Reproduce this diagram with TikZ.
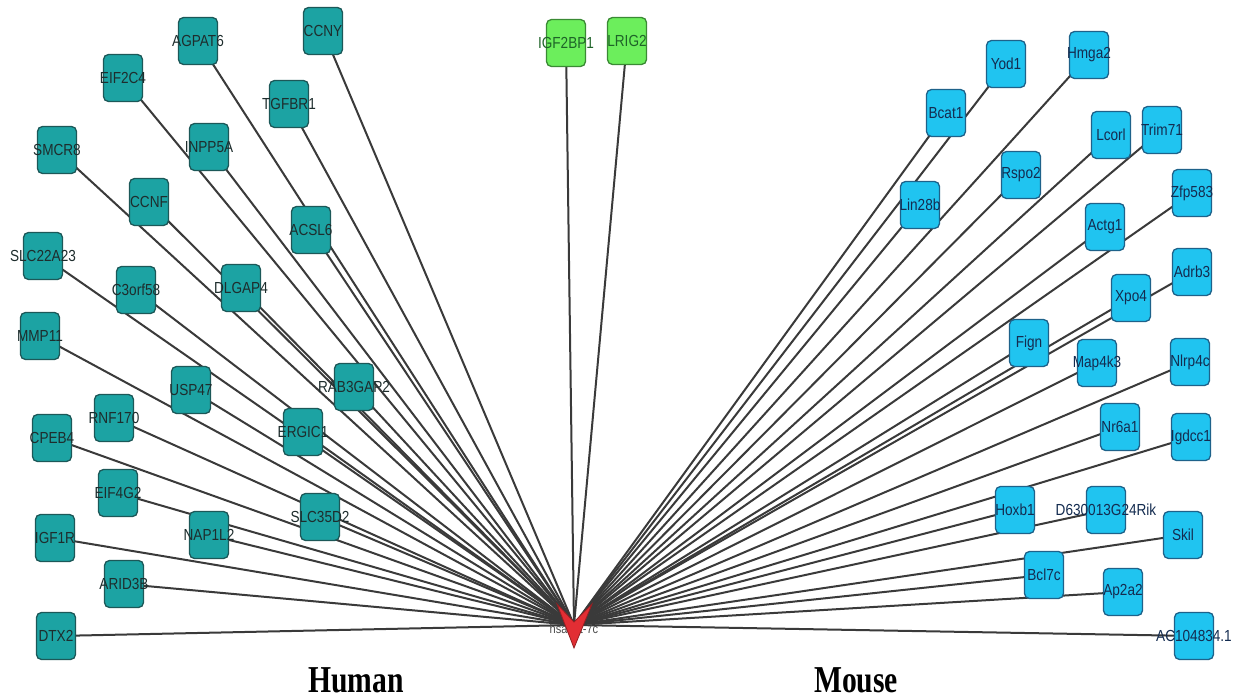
\documentclass[tikz,border=0pt]{standalone}
\usepackage{fontspec}
\newfontfamily\labfont{Liberation Sans}
\newfontfamily\capfont{Liberation Serif}
\pgfdeclarelayer{edges}
\pgfsetlayers{edges,main}
\definecolor{hfill}{RGB}{28,163,163}
\definecolor{hline}{RGB}{28,88,88}
\definecolor{htext}{RGB}{30,45,45}
\definecolor{gfill}{RGB}{108,238,92}
\definecolor{gline}{RGB}{58,138,52}
\definecolor{gtext}{RGB}{30,100,40}
\definecolor{mfill}{RGB}{32,196,240}
\definecolor{mline}{RGB}{30,98,138}
\definecolor{mtext}{RGB}{20,44,80}
\definecolor{vfill}{RGB}{226,46,52}
\definecolor{vline}{RGB}{150,30,34}
\definecolor{edgecol}{RGB}{58,58,58}

\begin{document}
\begin{tikzpicture}[x=1pt,y=-1pt,
  genelab/.style={font=\labfont\fontsize{16}{16}\selectfont, inner sep=0pt},
  gene/.style={rounded corners=5pt, line width=1.3pt, minimum width=39pt,
    minimum height=47pt, inner sep=0pt, outer sep=0pt},
  human/.style={gene, fill=hfill, draw=hline,
    label={[genelab, text=htext]center:\scalebox{0.85}[1]{#1}}},
  bridge/.style={gene, fill=gfill, draw=gline,
    label={[genelab, text=gtext]center:\scalebox{0.85}[1]{#1}}},
  mouse/.style={gene, fill=mfill, draw=mline,
    label={[genelab, text=mtext]center:\scalebox{0.85}[1]{#1}}},
  link/.style={draw=edgecol, line width=2pt},
  vnode/.style={fill=vfill, draw=vline, line width=0.8pt, line join=miter},
  species/.style={font=\capfont\bfseries\fontsize{38}{38}\selectfont, inner sep=0pt, anchor=base}
]
\begin{pgfonlayer}{edges}
  \fill[white] (0,0) rectangle (1235,698);
\end{pgfonlayer}
\useasboundingbox (0,0) rectangle (1235,698);

% hub
\node[inner sep=0pt, minimum size=0pt] (mir) at (574,625) {};

% human targets
\node[human=AGPAT6]   (h1)  at (198,41)  {};
\node[human=CCNY]     (h2)  at (323,31)  {};
\node[human=EIF2C4]   (h3)  at (123,78)  {};
\node[human=TGFBR1]   (h4)  at (289,104) {};
\node[human=SMCR8]    (h5)  at (57,150)  {};
\node[human=INPP5A]   (h6)  at (209,147) {};
\node[human=CCNF]     (h7)  at (149,202) {};
\node[human=ACSL6]    (h8)  at (311,230) {};
\node[human=SLC22A23] (h9)  at (43,256)  {};
\node[human=C3orf58]  (h10) at (136,290) {};
\node[human=DLGAP4]   (h11) at (241,288) {};
\node[human=MMP11]    (h12) at (40,336)  {};
\node[human=USP47]    (h13) at (191,390) {};
\node[human=RAB3GAP2] (h14) at (354,387) {};
\node[human=RNF170]   (h15) at (114,418) {};
\node[human=CPEB4]    (h16) at (52,438)  {};
\node[human=ERGIC1]   (h17) at (303,432) {};
\node[human=EIF4G2]   (h18) at (118,493) {};
\node[human=SLC35D2]  (h19) at (320,517) {};
\node[human=IGF1R]    (h20) at (55,538)  {};
\node[human=NAP1L2]   (h21) at (209,535) {};
\node[human=ARID3B]   (h22) at (124,584) {};
\node[human=DTX2]     (h23) at (56,636)  {};

% shared targets
\node[bridge=IGF2BP1] (g1) at (566,43) {};
\node[bridge=LRIG2]   (g2) at (627,41) {};

% mouse targets
\node[mouse=Yod1]          (m1)  at (1006,64)  {};
\node[mouse=Hmga2]         (m2)  at (1089,55)  {};
\node[mouse=Bcat1]         (m3)  at (946,113)  {};
\node[mouse=Lcorl]         (m4)  at (1111,135) {};
\node[mouse=Trim71]        (m5)  at (1162,130) {};
\node[mouse=Rspo2]         (m6)  at (1021,175) {};
\node[mouse=Lin28b]        (m7)  at (920,205)  {};
\node[mouse=Zfp583]        (m8)  at (1192,193) {};
\node[mouse=Actg1]         (m9)  at (1105,227) {};
\node[mouse=Adrb3]         (m10) at (1192,272) {};
\node[mouse=Xpo4]          (m11) at (1131,298) {};
\node[mouse=Fign]          (m12) at (1029,343) {};
\node[mouse=Map4k3]        (m13) at (1097,363) {};
\node[mouse=Nlrp4c]        (m14) at (1190,362) {};
\node[mouse=Nr6a1]         (m15) at (1120,427) {};
\node[mouse=Igdcc1]        (m16) at (1191,437) {};
\node[mouse=Hoxb1]         (m17) at (1015,510) {};
\node[mouse=D630013G24Rik] (m18) at (1106,510) {};
\node[mouse=Skil]          (m19) at (1183,535) {};
\node[mouse=Bcl7c]         (m20) at (1044,575) {};
\node[mouse=Ap2a2]         (m21) at (1123,592) {};
\node[mouse=AC104834.1]    (m22) at (1194,636) {};

% connectors, drawn beneath the boxes
\begin{pgfonlayer}{edges}
  \foreach \i in {1,...,23} \draw[link] (h\i.center) -- (mir.center);
  \foreach \i in {1,2} \draw[link] (g\i.center) -- (mir.center);
  \foreach \i in {1,...,22} \draw[link] (m\i.center) -- (mir.center);
\end{pgfonlayer}

% hub label and V-shaped hub marker
\node[genelab, text=black!70, font=\labfont\fontsize{13}{13}\selectfont] (mirlab) at (574,629) {\scalebox{0.85}[1]{hsa-let-7c}};
\draw[vnode] ([shift={(-17,-21)}]mir.center) -- ([shift={(0,-3)}]mir.center)
  -- ([shift={(18,-21)}]mir.center) -- ([shift={(0,23)}]mir.center) -- cycle;

% species captions
\node[species] (human) at (356,692) {\scalebox{0.78}[1]{Human}};
\node[species] (mouse) at (856,692) {\scalebox{0.78}[1]{Mouse}};
\end{tikzpicture}
\end{document}
